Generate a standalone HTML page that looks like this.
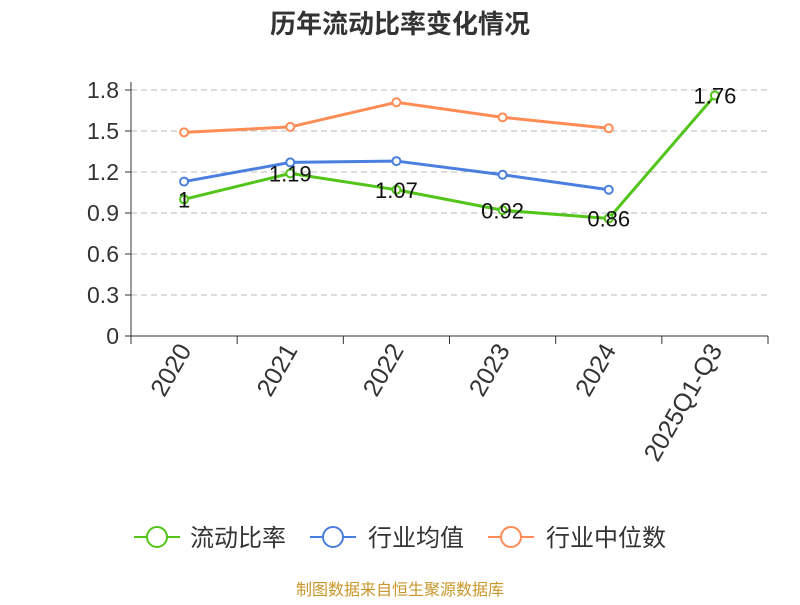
<!DOCTYPE html>
<html><head><meta charset="utf-8"><style>
body{margin:0;background:#fff;width:800px;height:600px;overflow:hidden}
svg{font-family:"Liberation Sans","Noto Sans CJK SC",sans-serif}
</style></head><body>
<svg id="c" width="800" height="600">
<text x="400" y="33" text-anchor="middle" font-size="26" font-weight="bold" fill="#333">历年流动比率变化情况</text>
<g id="grid"></g><g id="axes"></g><g id="series"></g><g id="labels"></g>
<g>
<g><line x1="134" y1="537" x2="180" y2="537" stroke="#52c41a" stroke-width="2"/><circle cx="157" cy="537" r="10" fill="#fff" stroke="#52c41a" stroke-width="2"/><text x="190" y="546" font-size="24" fill="#333">流动比率</text></g>
<g><line x1="310" y1="537" x2="356" y2="537" stroke="#4a7fe0" stroke-width="2"/><circle cx="333" cy="537" r="10" fill="#fff" stroke="#4a7fe0" stroke-width="2"/><text x="368" y="546" font-size="24" fill="#333">行业均值</text></g>
<g><line x1="488" y1="537" x2="534" y2="537" stroke="#ff8c55" stroke-width="2"/><circle cx="511" cy="537" r="10" fill="#fff" stroke="#ff8c55" stroke-width="2"/><text x="546" y="546" font-size="24" fill="#333">行业中位数</text></g>
</g>
<text x="400" y="595" text-anchor="middle" font-size="16" fill="#c8962a">制图数据来自恒生聚源数据库</text>
</svg>
<script>
const categories=["2020","2021","2022","2023","2024","2025Q1-Q3"];
const ratio=[1,1.19,1.07,0.92,0.86,1.76];
const mean=[1.13,1.27,1.28,1.18,1.07,null];
const median=[1.49,1.53,1.71,1.60,1.52,null];
const yTicks=[0,0.3,0.6,0.9,1.2,1.5,1.8];
const ratioLabels=["1","1.19","1.07","0.92","0.86","1.76"];
const NS="http://www.w3.org/2000/svg";
const L=131,R=768,T=90,B=336,ymax=1.8;
const bw=(R-L)/categories.length;
const X=i=>L+bw*(i+0.5);
const Y=v=>B-(v/ymax)*(B-T);
function mk(t,a,p){const e=document.createElementNS(NS,t);for(const k in a)e.setAttribute(k,a[k]);p.appendChild(e);return e;}
const grid=document.getElementById('grid'),axes=document.getElementById('axes'),ser=document.getElementById('series'),lab=document.getElementById('labels');
yTicks.forEach(v=>{
 if(v>0){const g=mk('line',{x1:L,x2:R,y1:Y(v),y2:Y(v),stroke:'#bbb','stroke-dasharray':'6,4'},grid);
 
 }
 const t=mk('text',{x:L-12,y:Y(v)+8,'text-anchor':'end','font-size':23,fill:'#333'},axes);t.textContent=String(v);
 
 
 mk('line',{x1:L-6,x2:L,y1:Y(v),y2:Y(v),stroke:'#333'},axes);
});
const ya=mk('line',{x1:L,x2:L,y1:T-8,y2:B,stroke:'#333'},axes);


const xa=mk('line',{x1:L,x2:R,y1:B,y2:B,stroke:'#333'},axes);


for(let i=0;i<=categories.length;i++)mk('line',{x1:L+bw*i,x2:L+bw*i,y1:B,y2:B+8,stroke:'#333'},axes);
categories.forEach((c,i)=>{
 const ax=X(i)+8,ay=B+14;
 const t=mk('text',{x:ax,y:ay,'text-anchor':'end','font-size':25,fill:'#333',transform:`rotate(-60 ${ax} ${ay})`},axes);t.textContent=c;
 
 
});
function series(vals,color,name){
 const pts=vals.map((v,i)=>v==null?null:[X(i),Y(v)]).filter(p=>p);
 const pl=mk('polyline',{points:pts.map(p=>p.join(',')).join(' '),fill:'none',stroke:color,'stroke-width':3},ser);
 
 
 pts.forEach(p=>{const c=mk('circle',{cx:p[0],cy:p[1],r:4,fill:'#fff',stroke:color,'stroke-width':2},ser);
 
 });
}
series(median,'#ff8c55','industry-median');
series(mean,'#4a7fe0','industry-mean');
series(ratio,'#52c41a','current-ratio');
ratio.forEach((v,i)=>{const t=mk('text',{x:X(i),y:Y(v)+8,'text-anchor':'middle','font-size':22,fill:'#111'},lab);t.textContent=ratioLabels[i];
 
 });
</script>
</body></html>
